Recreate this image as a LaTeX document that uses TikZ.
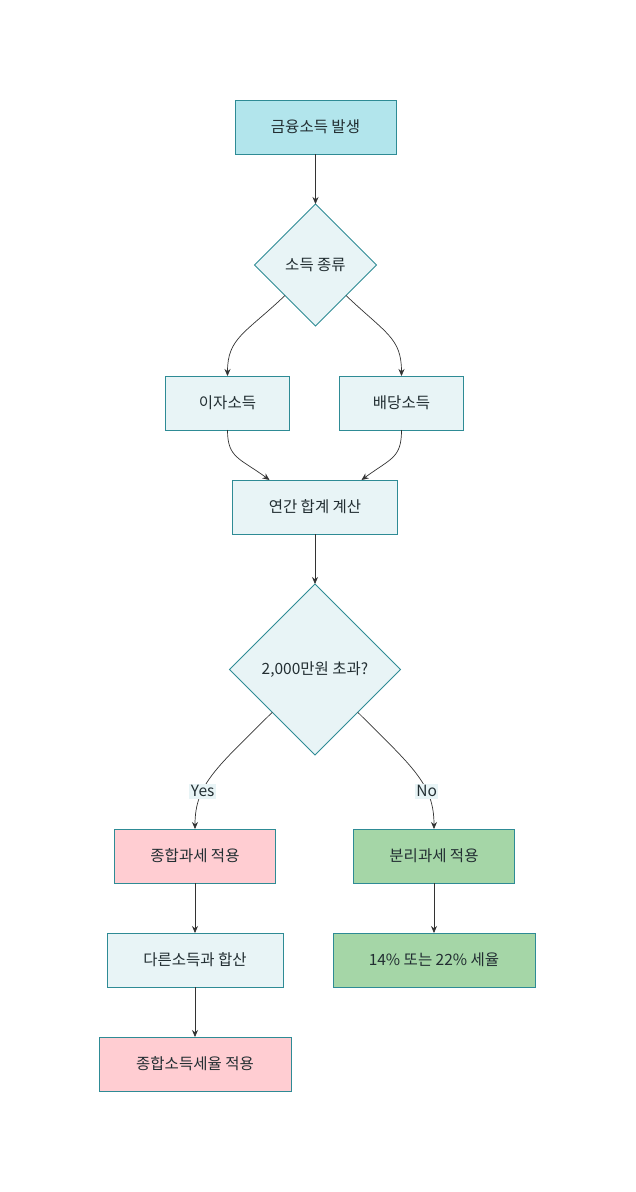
\documentclass[tikz,border=0pt]{standalone}
\usepackage{fontspec}
\setmainfont{Noto Sans CJK KR}
\usepackage{tikz}
\usetikzlibrary{arrows.meta,positioning,shapes.geometric}

\definecolor{edgeteal}{RGB}{46,139,149}
\definecolor{fillblue}{RGB}{178,229,236}
\definecolor{filllight}{RGB}{232,244,246}
\definecolor{fillpink}{RGB}{255,205,210}
\definecolor{fillgreen}{RGB}{165,214,167}
\definecolor{textdark}{RGB}{34,46,50}
\definecolor{linegray}{RGB}{51,51,51}

\begin{document}
\begin{tikzpicture}[x=1pt,y=-1pt,>={Stealth[length=7pt,width=6pt]}]
        \tikzset{
            box/.style= {
                draw=edgeteal,
                line width=0.8pt,
                fill=filllight,
                text=textdark,
                shape=rectangle,
                align=center,
                font=\fontsize{15.5}{18}\selectfont,
                minimum height=54pt,
                inner sep=0pt,
                outer sep=0pt
            },
            startbox/.style={box, fill=fillblue},
            pinkbox/.style={box, fill=fillpink},
            greenbox/.style={box, fill=fillgreen},
            decision/.style={box, shape=diamond, aspect=1},
            lbl/.style={fill=filllight, text=textdark, inner sep=1.5pt,
                font=\fontsize{15.5}{18}\selectfont},
            arr/.style={->, draw=linegray, line width=0.7pt}
        }
        \useasboundingbox (0,0) rectangle (636,1192);
        \node [startbox, minimum width=161pt] (income) at (315.5,127)
            {금융소득 발생};
        \node [decision, minimum width=122pt, minimum height=122pt, below=50pt of income] (kind)
            {소득 종류};
        \node [box, minimum width=124pt, below=50pt of kind, xshift=-88pt] (interest)
            {이자소득};
        \node [box, minimum width=124pt, below=50pt of kind, xshift=86pt] (dividend)
            {배당소득};
        \node [box, minimum width=165pt, below=50pt of interest, xshift=87.5pt] (total)
            {연간 합계 계산};
        \node [decision, minimum width=171pt, minimum height=171pt, below=50pt of total] (limit)
            {2,000만원 초과?};
        \node [pinkbox, minimum width=161pt, below=74pt of limit, xshift=-120pt] (comp)
            {종합과세 적용};
        \node [greenbox, minimum width=161pt, below=74pt of limit, xshift=119pt] (sep)
            {분리과세 적용};
        \node [box, minimum width=176pt, below=50pt of comp] (merge)
            {다른소득과 합산};
        \node [greenbox, minimum width=202pt, below=50pt of sep] (rate)
            {14\% 또는 22\% 세율};
        \node [pinkbox, minimum width=192pt, below=50pt of merge] (comprate)
            {종합소득세율 적용};
%% paths
\draw[arr] (income) -- (kind);
\draw[arr] (kind.south west) .. controls +(-40,38) and +(0,-38) .. (interest.north);
\draw[arr] (kind.south east) .. controls +(40,38) and +(0,-38) .. (dividend.north);
\draw[arr] (interest.south) .. controls +(0,28) and +(-30,-22) .. ([xshift=-45.5pt]total.north);
\draw[arr] (dividend.south) .. controls +(0,28) and +(30,-22) .. ([xshift=46.5pt]total.north);
\draw[arr] (total) -- (limit);
\draw[arr] (limit.south west) .. controls +(-55,55) and +(0,-45) .. node[lbl, pos=0.67] {Yes} (comp.north);
\draw[arr] (limit.south east) .. controls +(55,55) and +(0,-45) .. node[lbl, pos=0.67] {No} (sep.north);
\draw[arr] (comp) -- (merge);
\draw[arr] (merge) -- (comprate);
\draw[arr] (sep) -- (rate);
\end{tikzpicture}
\end{document}
